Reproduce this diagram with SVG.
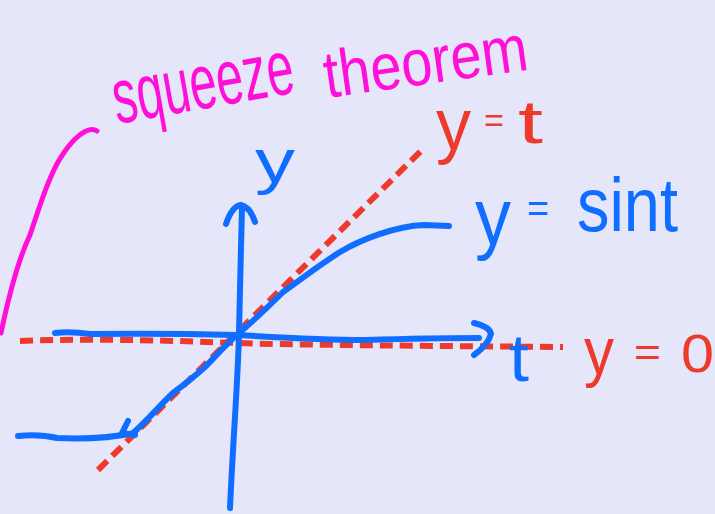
<svg xmlns="http://www.w3.org/2000/svg" width="715" height="514" viewBox="0 0 715 514">
<style>
.blue{fill:none;stroke:#0F6EFF;stroke-width:6;stroke-linecap:round;stroke-linejoin:round}
.red{fill:none;stroke:#EE3A2A;stroke-width:6;stroke-dasharray:13 7}
.pink{fill:none;stroke:#FF10D8;stroke-width:5;stroke-linecap:round;stroke-linejoin:round}
.lbl{font-family:"Liberation Sans",Arial,sans-serif}
.tb{fill:#0F6EFF}
.tr{fill:#EE3A2A}
.tp{fill:#FF10D8}
</style>
<rect width="715" height="514" fill="#E6E6FB"/>
<g id="title">
<text class="lbl tp" transform="translate(117,124) rotate(-10)" font-size="78" textLength="183" lengthAdjust="spacingAndGlyphs">squeeze</text>
<text class="lbl tp" transform="translate(327,98) rotate(-8)" font-size="66" textLength="205" lengthAdjust="spacingAndGlyphs">theorem</text>
<path class="pink" d="M1,333 C10,290 18,260 30,235 C40,205 48,180 58,162 C68,145 78,135 86,131 Q93,128 97,131"/>
</g>
<g id="connectors">
<path class="red" d="M98,470 L424,148"/>
<path class="red" d="M20,341 C100,338 180,341 237,343 S450,346 563,347"/>
<path class="blue" d="M230,508 C233,440 238,380 239,333 C240,290 241,240 242,207"/>
<path class="blue" d="M226,224 Q232,206 241,205 Q250,207 255,222"/>
<path class="blue" d="M55,333 Q70,331 90,334 Q160,333 237,335 Q320,340 365,340 Q430,338 479,338"/>
<path class="blue" d="M474,323 Q490,327 491,334 Q488,345 474,355"/>
<path class="blue" d="M449,226 L424,225 C395,226 360,240 340,252 C318,266 300,280 283,292 C265,310 252,322 239,333 C225,345 215,357 205,367 C195,376 185,384 173,393 C160,405 148,420 133,433"/>
<path class="blue" d="M135,433 Q100,440 57,438 Q40,434 18,436"/>
<path class="blue" d="M128,421 L122,433 L135,435"/>
</g>
<g id="label-y">
<text class="lbl tb" x="255" y="182" font-size="62" textLength="40" lengthAdjust="spacingAndGlyphs">y</text>
</g>
<g id="label-t">
<text class="lbl tb" x="509" y="381" font-size="66" textLength="20" lengthAdjust="spacingAndGlyphs">t</text>
</g>
<g id="label-sint">
<text class="lbl tb" font-size="80"><tspan x="475" y="244" textLength="36" lengthAdjust="spacingAndGlyphs">y</tspan><tspan x="527" y="222" font-size="40" textLength="22" lengthAdjust="spacingAndGlyphs">=</tspan><tspan x="577" y="231" font-size="76" textLength="101" lengthAdjust="spacingAndGlyphs">sint</tspan></text>
</g>
<g id="label-yt">
<text class="lbl tr" font-size="74"><tspan x="436" y="150" textLength="35" lengthAdjust="spacingAndGlyphs">y</tspan><tspan x="484" y="132" font-size="34" textLength="20" lengthAdjust="spacingAndGlyphs">=</tspan><tspan x="518" y="143" font-size="62" textLength="25" lengthAdjust="spacingAndGlyphs">t</tspan></text>
</g>
<g id="label-y0">
<text class="lbl tr" font-size="66"><tspan x="584" y="374" textLength="30" lengthAdjust="spacingAndGlyphs">y</tspan><tspan x="634" y="366" font-size="40" textLength="27" lengthAdjust="spacingAndGlyphs">=</tspan><tspan x="681" y="372" font-size="54" textLength="33" lengthAdjust="spacingAndGlyphs">0</tspan></text>
</g>
</svg>
